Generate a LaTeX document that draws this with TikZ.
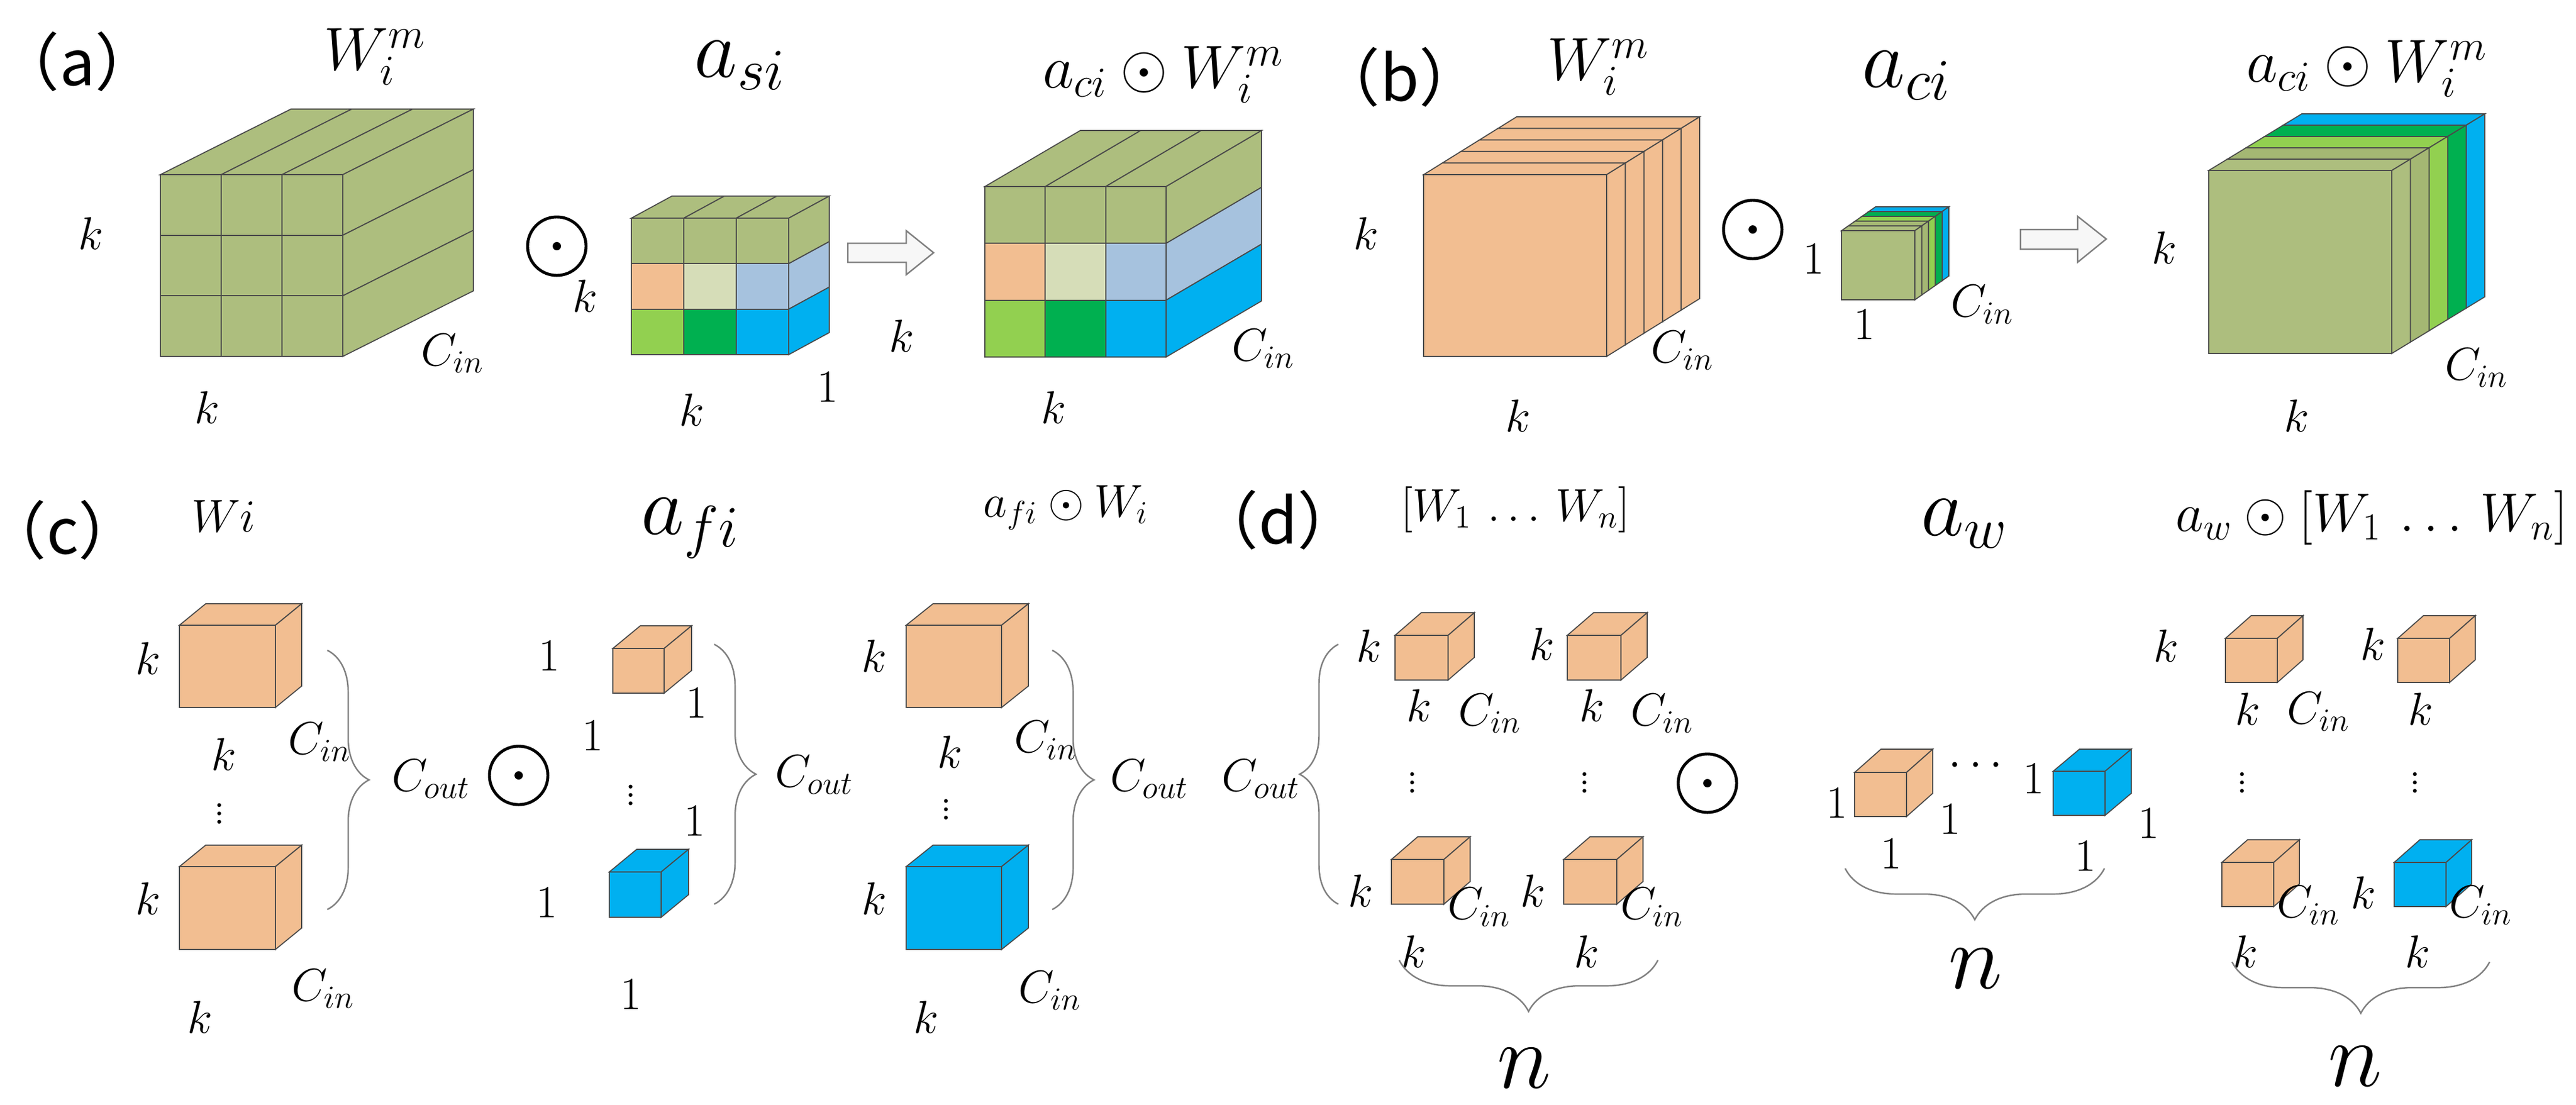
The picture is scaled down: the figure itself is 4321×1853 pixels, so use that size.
\RequirePackage{fix-cm}
\documentclass[tikz,border=0pt]{standalone}
\usepackage{fontspec}
\newfontfamily\cjk{Noto Sans CJK SC}
\usetikzlibrary{decorations.pathreplacing}
\definecolor{ol}{HTML}{ADBE7E}
\definecolor{olt}{HTML}{A4B773}
\definecolor{ors}{HTML}{F2BE91}
\definecolor{bl}{HTML}{00B0F0}
\definecolor{lb}{HTML}{A6C2DE}
\definecolor{bg}{HTML}{D6DDB8}
\definecolor{gr}{HTML}{92D050}
\definecolor{dg}{HTML}{00B050}
\definecolor{ed}{HTML}{4A4A4A}
\tikzset{
 edge/.style={draw=ed,line width=0.5pt},
 sm/.style={font=\fontsize{22}{26}\selectfont,inner sep=0pt},
 tt/.style={font=\fontsize{29}{34}\selectfont,inner sep=0pt},
 ta/.style={font=\fontsize{40}{44}\selectfont,inner sep=0pt},
 nn/.style={font=\fontsize{44}{46}\selectfont,inner sep=0pt},
 pl/.style={font=\cjk\fontsize{30}{32}\selectfont,inner sep=0pt},
 od/.style={circle,draw,line width=1.4pt,minimum size=0.98cm,inner sep=0pt},
 br/.style={draw=gray,line width=0.7pt,decorate,decoration={brace,amplitude=#1}},
 harrow/.style={draw=gray,fill=gray!6,line width=0.7pt},
}
% box: x1 y1 x2 y2 dx dy fill
\newcommand\cub[7]{%
 \filldraw[edge,fill=#7] (#1,#2) rectangle (#3,#4);
 \filldraw[edge,fill=#7] (#1,#2) -- ++(#5,#6) -- ++({(#3)-(#1)},0) -- (#3,#2) -- cycle;
 \filldraw[edge,fill=#7] (#3,#2) -- ++(#5,#6) -- ++(0,{(#4)-(#2)}) -- (#3,#4) -- cycle;}
% grid cube: x y w h dx dy {9 front colours} {3 side colours}
\newcommand\gcube[8]{%
 \foreach \c [count=\i from 0] in {#7} {%
  \pgfmathsetmacro\cx{mod(\i,3)}\pgfmathsetmacro\cy{int(\i/3)}%
  \filldraw[edge,fill=\c] ({#1+\cx*#3/3},{#2+\cy*#4/3}) rectangle ++({#3/3},{#4/3});}
 \foreach \j in {0,1,2}
  \filldraw[edge,fill=ol] ({#1+\j*#3/3},#2) -- ++(#5,#6) -- ++({#3/3},0) -- ++({-(#5)},{-(#6)}) -- cycle;
 \foreach \c [count=\j from 0] in {#8}
  \filldraw[edge,fill=\c] ({#1+#3},{#2+\j*#4/3}) -- ++(#5,#6) -- ++(0,{#4/3}) -- ++({-(#5)},{-(#6)}) -- cycle;}
% slab stack: x1 y1 x2 y2 dx dy {5 colours, back to front}
\newcommand\scube[7]{%
 \foreach \c [count=\i from 0] in {#7} {%
  \pgfmathsetmacro\k{4-\i}%
  \pgfmathsetmacro\ax{#1+\k*(#5)/5}\pgfmathsetmacro\ay{#2+\k*(#6)/5}%
  \pgfmathsetmacro\bx{#3+\k*(#5)/5}\pgfmathsetmacro\by{#4+\k*(#6)/5}%
  \pgfmathsetmacro\sx{(#5)/5}\pgfmathsetmacro\sy{(#6)/5}%
  \cub{\ax}{\ay}{\bx}{\by}{\sx}{\sy}{\c}}}
\newcommand\odt[2]{\node[od] (#1) at #2 {}; \fill (#1.center) circle (0.07cm);}
\begin{document}
\begin{tikzpicture}[x=0.01cm,y=-0.01cm]
\useasboundingbox (0,0) rectangle (4321,1853);
\fill[white] (0,0) rectangle (4321,1853);
% ---------- (a)
\node[pl] (pa) at (130,103) {（a）};
\node[tt] (ta1) at (629,95) {$W_i^m$};
\node[ta] (ta2) at (1241,110) {$a_{si}$};
\node[tt] (ta3) at (1951,125) {$a_{ci}\odot W_i^m$};
\gcube{269}{293}{306}{305}{219}{-110}{ol,ol,ol,ol,ol,ol,ol,ol,ol}{ol,ol,ol}
\node[sm] (ka1) at (152,392) {$k$};
\node[sm] (ka2) at (347,684) {$k$};
\node[sm] (ca1) at (759,593) {$C_{in}$};
\odt{oa}{(934,413)}
\gcube{1059}{366}{264}{229}{68}{-37}{ol,ol,ol,ors,bg,lb,gr,dg,bl}{ol,lb,bl}
\node[sm] (ka3) at (981,497) {$k$};
\node[sm] (ka4) at (1160,688) {$k$};
\node[sm] (ka5) at (1388,650) {$1$};
\draw[harrow] (1422,408) -- (1520,408) -- (1520,387) -- (1566,424) -- (1520,461) -- (1520,440) -- (1422,440) -- cycle;
\node[sm] (ka6) at (1512,564) {$k$};
\gcube{1652}{313}{304}{286}{160}{-94}{ol,ol,ol,ors,bg,lb,gr,dg,bl}{ol,lb,bl}
\node[sm] (ca2) at (2119,585) {$C_{in}$};
\node[sm] (ka7) at (1767,684) {$k$};
% ---------- (b)
\node[pl] (pb) at (2348,129) {（b）};
\node[tt] (tb1) at (2681,112) {$W_i^m$};
\node[ta] (tb2) at (3198,127) {$a_{ci}$};
\node[tt] (tb3) at (3970,115) {$a_{ci}\odot W_i^m$};
\scube{2388}{293}{2695}{598}{156}{-97}{ors,ors,ors,ors,ors}
\node[sm] (kb1) at (2291,392) {$k$};
\node[sm] (cb1) at (2822,588) {$C_{in}$};
\node[sm] (kb2) at (2546,698) {$k$};
\odt{ob}{(2940,385)}
\scube{3089}{387}{3212}{503}{57}{-40}{bl,dg,gr,olt,ol}
\node[sm] (kb3) at (3042,435) {$1$};
\node[sm] (kb4) at (3127,545) {$1$};
\node[sm] (cb2) at (3325,511) {$C_{in}$};
\draw[harrow] (3389,385) -- (3485,385) -- (3485,363) -- (3533,401) -- (3485,440) -- (3485,418) -- (3389,418) -- cycle;
\node[sm] (kb5) at (3630,416) {$k$};
\scube{3705}{286}{4012}{593}{156}{-95}{bl,dg,gr,olt,ol}
\node[sm] (cb3) at (4154,617) {$C_{in}$};
\node[sm] (kb6) at (3852,698) {$k$};
% ---------- (c)
\node[pl] (pc) at (105,889) {（c）};
\node[sm] (tc1) at (375,866) {$Wi$};
\node[ta] (tc2) at (1158,886) {$a_{fi}$};
\node[sm] (tc3) at (1788,852) {$a_{fi}\odot W_i$};
\cub{301}{1049}{462}{1187}{44}{-36}{ors}
\cub{301}{1454}{462}{1593}{44}{-36}{ors}
\node[sm] (kc1) at (248,1105) {$k$};
\node[sm] (kc2) at (375,1266) {$k$};
\node[sm] (cc1) at (536,1245) {$C_{in}$};
\node[sm] (dc1) at (368,1355) {$\vdots$};
\node[sm] (kc3) at (248,1508) {$k$};
\node[sm] (cc2) at (542,1659) {$C_{in}$};
\node[sm] (kc4) at (335,1707) {$k$};
\coordinate (b1a) at (549,1091); \coordinate (b1b) at (549,1526);
\draw[br=0.7cm] (b1a) -- (b1b);
\node[sm] (co1) at (723,1307) {$C_{out}$};
\odt{oc}{(870,1301)}
\cub{1028}{1088}{1114}{1163}{46}{-38}{ors}
\cub{1022}{1463}{1109}{1539}{46}{-38}{bl}
\node[sm] (uc1) at (921,1101) {$1$};
\node[sm] (uc2) at (1168,1180) {$1$};
\node[sm] (uc3) at (994,1235) {$1$};
\node[sm] (dc2) at (1058,1324) {$\vdots$};
\node[sm] (uc4) at (1165,1378) {$1$};
\node[sm] (uc5) at (917,1515) {$1$};
\node[sm] (uc6) at (1058,1669) {$1$};
\coordinate (b2a) at (1198,1081); \coordinate (b2b) at (1198,1517);
\draw[br=0.7cm] (b2a) -- (b2b);
\node[sm] (co2) at (1366,1300) {$C_{out}$};
\cub{1520}{1049}{1680}{1187}{45}{-36}{ors}
\cub{1520}{1454}{1680}{1593}{45}{-36}{bl}
\node[sm] (kc5) at (1466,1101) {$k$};
\node[sm] (kc6) at (1593,1262) {$k$};
\node[sm] (cc3) at (1754,1242) {$C_{in}$};
\node[sm] (dc3) at (1587,1348) {$\vdots$};
\node[sm] (kc7) at (1466,1508) {$k$};
\node[sm] (cc4) at (1761,1662) {$C_{in}$};
\node[sm] (kc8) at (1553,1707) {$k$};
\coordinate (b3a) at (1765,1091); \coordinate (b3b) at (1765,1526);
\draw[br=0.7cm] (b3a) -- (b3b);
\node[sm] (co4) at (1928,1307) {$C_{out}$};
% ---------- (d)
\node[pl] (pd) at (2144,872) {（d）};
\node[sm] (td1) at (2542,855) {$[W_1\,\ldots\,W_n]$};
\node[ta] (td2) at (3295,879) {$a_w$};
\node[font=\fontsize{26}{30}\selectfont,inner sep=0pt,anchor=east] (td3) at (4308,869) {$a_w\odot[W_1\,\ldots\,W_n]$};
\node[sm] (co3) at (2115,1307) {$C_{out}$};
\coordinate (b4a) at (2245,1517); \coordinate (b4b) at (2245,1081);
\draw[br=0.65cm] (b4a) -- (b4b);
\cub{2340}{1066}{2429}{1141}{44}{-38}{ors}
\cub{2629}{1066}{2719}{1141}{44}{-38}{ors}
\cub{2334}{1442}{2422}{1517}{44}{-38}{ors}
\cub{2623}{1442}{2712}{1517}{44}{-38}{ors}
\node[sm] (kd1) at (2296,1084) {$k$};
\node[sm] (kd2) at (2586,1081) {$k$};
\node[sm] (kd3) at (2380,1184) {$k$};
\node[sm] (cd1) at (2499,1197) {$C_{in}$};
\node[sm] (kd4) at (2670,1184) {$k$};
\node[sm] (cd2) at (2788,1197) {$C_{in}$};
\node[sm] (dd1) at (2369,1303) {$\vdots$};
\node[sm] (dd2) at (2658,1303) {$\vdots$};
\odt{odd}{(2864,1314)}
\node[sm] (kd5) at (2282,1495) {$k$};
\node[sm] (cd3) at (2481,1522) {$C_{in}$};
\node[sm] (kd6) at (2571,1495) {$k$};
\node[sm] (cd4) at (2771,1522) {$C_{in}$};
\node[sm] (kd7) at (2371,1597) {$k$};
\node[sm] (kd8) at (2661,1597) {$k$};
\coordinate (b5a) at (2781,1611); \coordinate (b5b) at (2347,1611);
\draw[br=0.86cm] (b5a) -- (b5b);
\node[nn] (n1) at (2557,1792) {$n$};
\cub{3111}{1296}{3198}{1370}{44}{-39}{ors}
\cub{3444}{1294}{3531}{1368}{44}{-37}{bl}
\node[sm] (ud1) at (3081,1348) {$1$};
\node[sm] (ud2) at (3271,1375) {$1$};
\node[sm] (ud3) at (3172,1433) {$1$};
\node[sm] (ud4) at (3314,1285) {$\cdots$};
\node[sm] (ud5) at (3411,1307) {$1$};
\node[sm] (ud6) at (3604,1382) {$1$};
\node[sm] (ud7) at (3498,1437) {$1$};
\coordinate (b6a) at (3530,1457); \coordinate (b6b) at (3095,1457);
\draw[br=0.86cm] (b6a) -- (b6b);
\node[nn] (n2) at (3314,1625) {$n$};
\cub{3733}{1071}{3820}{1145}{43}{-38}{ors}
\cub{4022}{1071}{4109}{1145}{43}{-38}{ors}
\cub{3727}{1447}{3814}{1521}{43}{-38}{ors}
\cub{4016}{1447}{4103}{1521}{43}{-38}{bl}
\node[sm] (ke1) at (3633,1084) {$k$};
\node[sm] (ke2) at (3980,1081) {$k$};
\node[sm] (ke3) at (3770,1190) {$k$};
\node[sm] (ce1) at (3889,1194) {$C_{in}$};
\node[sm] (ke4) at (4060,1190) {$k$};
\node[sm] (de1) at (3761,1303) {$\vdots$};
\node[sm] (de2) at (4051,1303) {$\vdots$};
\node[sm] (ce2) at (3872,1519) {$C_{in}$};
\node[sm] (ke5) at (3964,1498) {$k$};
\node[sm] (ce3) at (4161,1519) {$C_{in}$};
\node[sm] (ke6) at (3766,1597) {$k$};
\node[sm] (ke7) at (4055,1597) {$k$};
\coordinate (b7a) at (4176,1614); \coordinate (b7b) at (3744,1614);
\draw[br=0.86cm] (b7a) -- (b7b);
\node[nn] (n3) at (3951,1789) {$n$};
\end{tikzpicture}
\end{document}
